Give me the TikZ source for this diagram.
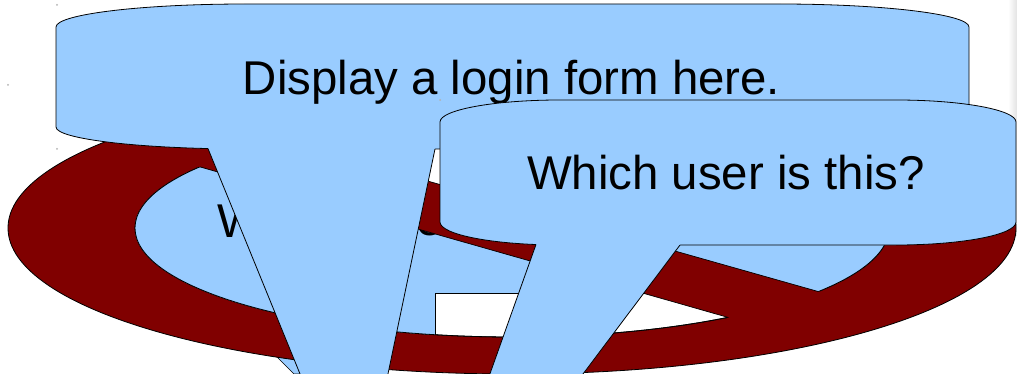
\documentclass[tikz,border=0pt]{standalone}
\usepackage{fontspec}
\setmainfont{Liberation Sans}
\definecolor{lblue}{RGB}{153,204,255}
\definecolor{maroonc}{RGB}{128,0,0}
\tikzset{
  outl/.style={draw=black, line width=0.8pt},
  thinl/.style={draw=black, line width=0.7pt},
  bigtext/.style={font=\fontsize{47.4}{57}\selectfont, inner sep=0pt, text=black},
  tinydot/.style={fill=gray!60, draw=none},
}
\begin{document}
\begin{tikzpicture}[x=1pt, y=-1pt]
\useasboundingbox (0,0) rectangle (1017,374);
\clip (0,0) rectangle (1017,374);
\fill[white] (0,0) rectangle (1017,374);
% faint strip at the right edge
\shade[left color=white, right color=gray!22] (1008,0) rectangle (1017,235);

% small blue piece below the ring (bottom left)
\path[fill=lblue, thinl] (255,335) -- (294,374) -- (330,374) -- (330,335) -- cycle;

% outer maroon ellipse
\path[fill=maroonc, outl] (512,228) ellipse [x radius=504, y radius=146];
% inner ellipse (white base)
\path[fill=white, outl] (512,228) ellipse [x radius=377, y radius=109];

\begin{scope}
  \clip (512,228) ellipse [x radius=377, y radius=109];
  \fill[lblue] (100,90) rectangle (420,360);
  \fill[lblue] (100,200) rectangle (435,360);
  \fill[lblue] (435,200) rectangle (900,293);
  \draw[thinl] (435,360) -- (435,293) -- (900,293);
  \node[bigtext, anchor=base west] (wtxt) at (217,237) {W};
  \node[bigtext, anchor=base west] (etxt) at (416,235.5) {e};
\end{scope}
\draw[outl] (512,228) ellipse [x radius=377, y radius=109];

% slanted maroon band
\begin{scope}
  \clip (512,228) ellipse [x radius=504, y radius=146];
  \fill[maroonc] (180,111.0) -- (840,297.7) -- (760,326.5) -- (180,161.2) -- cycle;
\end{scope}
\begin{scope}
  \clip (512,228) ellipse [x radius=377, y radius=109];
  \draw[thinl] (180,111.0) -- (840,297.7);
  \draw[thinl] (180,161.2) -- (840,349.3);
\end{scope}

% Display callout
\path[fill=lblue, outl] (56,27) .. controls (56,14.3) and (141.1,4) .. (246,4)
  -- (779,4) .. controls (883.9,4) and (969,14.3) .. (969,27)
  -- (969,127) .. controls (969,139.15) and (883.9,149) .. (779,149)
  -- (246,149) .. controls (141.1,149) and (56,139.15) .. (56,127) -- cycle;
\coordinate (dl) at (208,148.6);
\coordinate (dr) at (435,149);
\coordinate (dtip) at (358.2,516.4);
\fill[lblue] (dl) -- (dtip) -- (dr) -- (435,140) -- (208,140) -- cycle;
\draw[outl] (dl) -- (dtip) -- (dr);
\node[bigtext, anchor=base] (displaytxt) at (511.5,95) {Display a login form here.};

% Which callout
\path[fill=lblue, outl] (440,122) .. controls (440,109.85) and (493.7,100) .. (560,100)
  -- (896,100) .. controls (962.3,100) and (1016,109.85) .. (1016,122)
  -- (1016,222) .. controls (1016,234.7) and (962.3,245) .. (896,245)
  -- (560,245) .. controls (493.7,245) and (440,234.7) .. (440,222) -- cycle;
\coordinate (wl) at (536,244.5);
\coordinate (wr) at (680,245);
\coordinate (wtip) at (406.1,609.2);
\fill[lblue] (wl) -- (wtip) -- (wr) -- (680,236) -- (536,236) -- cycle;
\draw[outl] (wl) -- (wtip) -- (wr);
\node[bigtext, anchor=base] (whichtxt) at (726,190) {Which user is this?};

% tiny marker dots
\fill[tinydot] (57,5) circle (1);
\fill[tinydot] (8,85) circle (1);
\fill[tinydot] (57,149) circle (1);
\fill[tinydot] (440,100) circle (1);
\end{tikzpicture}
\end{document}
